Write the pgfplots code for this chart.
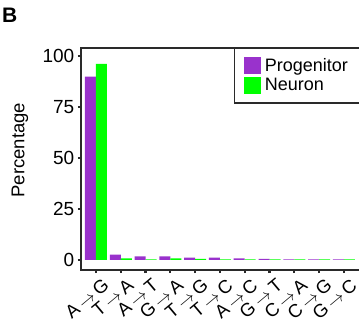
\documentclass[border=0pt]{standalone}
\usepackage{pgfplots}
\pgfplotsset{compat=1.18}
\usepackage{fontspec}
\setmainfont{Liberation Sans}
\definecolor{prog}{HTML}{9932CC}
\definecolor{neur}{HTML}{00FF00}
\definecolor{axc}{HTML}{2A2A2A}
\newcommand{\ar}{\hspace{3bp}$\rightarrow$\hspace{3bp}}
\begin{document}
\begin{tikzpicture}
\path[use as bounding box] (0,0) rectangle (359bp,325bp);
\node[anchor=base west, inner sep=0pt, font=\fontsize{21bp}{24bp}\selectfont\bfseries] at (2bp,302bp) {B};
\begin{axis}[
  at={(81bp,55bp)}, anchor=south west,
  scale only axis, width=281bp, height=222bp,
  xmin=-0.605, xmax=10.73, ymin=-4.9, ymax=103.8,
  ybar=0bp, bar width=11bp,
  axis line style={draw=axc, line width=1.6bp},
  tick style={draw=axc, line width=2.2bp},
  tick align=outside, major tick length=3bp,
  xtick pos=bottom, ytick pos=left,
  ytick={0,25,50,75,100},
  xtick={0,...,10},
  xticklabels={A\ar G,T\ar A,A\ar T,G\ar A,T\ar G,T\ar C,A\ar C,G\ar T,C\ar A,C\ar G,G\ar C},
  xticklabel style={xshift=6bp, yshift=-3bp, rotate=40, anchor=north east, inner sep=1bp, font=\fontsize{18.5bp}{20bp}\selectfont},
  yticklabel style={font=\fontsize{19bp}{21bp}\selectfont, inner xsep=3.5bp},
  /pgf/number format/assume math mode=true,
  ylabel={Percentage},
  ylabel style={at={(axis description cs:-0.217,0.54)}, anchor=center, rotate=0, font=\fontsize{18.5bp}{21bp}\selectfont},
  legend style={at={(0.543,1.004)}, anchor=north west, draw=axc, line width=1.6bp,
    font=\fontsize{18bp}{20bp}\selectfont, inner xsep=9.5bp, inner ysep=9bp, row sep=3bp,
    nodes={inner xsep=4bp, inner ysep=0bp, xshift=4bp}},
  legend cell align=left,
  legend image code/.code={\fill[#1] (0bp,-8.5bp) rectangle (17bp,8.5bp);},
]
\addplot[fill=prog, draw=none] coordinates {(0,89.8) (1,2.6) (2,1.8) (3,1.8) (4,1.2) (5,1.2) (6,0.8) (7,0.5) (8,0.3) (9,0.3) (10,0.3)};
\addplot[fill=neur, draw=none] coordinates {(0,96.0) (1,0.8) (2,0.3) (3,0.8) (4,0.5) (5,0.3) (6,0.3) (7,0.3) (8,0.3) (9,0.3) (10,0.3)};
\legend{Progenitor,Neuron}
\end{axis}
\end{tikzpicture}
\end{document}
